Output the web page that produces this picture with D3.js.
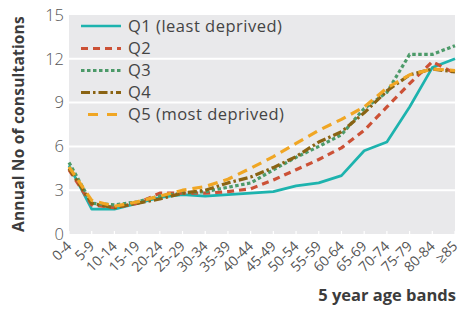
<!DOCTYPE html>
<html>
<head>
<meta charset="utf-8">
<script src="https://cdn.jsdelivr.net/npm/d3@7"></script>
<style>
  html, body { margin: 0; padding: 0; background: #fff; }
  svg { display: block; font-family: "Open Sans", "DejaVu Sans", sans-serif; }
</style>
</head>
<body>
<svg id="chart" width="461" height="311"></svg>
<script>
const categories = ["0-4","5-9","10-14","15-19","20-24","25-29","30-34","35-39","40-44","45-49","50-54","55-59","60-64","65-69","70-74","75-79","80-84","\u226585"];
const q1 = [4.7, 1.7, 1.7, 2.1, 2.5, 2.7, 2.6, 2.7, 2.8, 2.9, 3.3, 3.5, 4.0, 5.7, 6.3, 8.7, 11.4, 12.0];
const q2 = [4.4, 2.0, 1.8, 2.1, 2.8, 2.8, 2.8, 2.9, 3.1, 3.7, 4.4, 5.1, 5.9, 7.1, 8.7, 10.3, 11.8, 11.0];
const q3 = [4.9, 2.1, 2.0, 2.2, 2.6, 2.8, 2.9, 3.2, 3.5, 4.4, 5.25, 6.0, 6.8, 8.6, 9.7, 12.3, 12.3, 12.9];
const q4 = [4.5, 2.1, 1.8, 2.1, 2.4, 2.8, 3.0, 3.5, 3.9, 4.55, 5.3, 6.3, 7.0, 8.3, 9.8, 10.9, 11.3, 11.1];
const q5 = [4.6, 2.3, 1.9, 2.2, 2.6, 3.0, 3.25, 3.75, 4.5, 5.3, 6.2, 7.1, 7.85, 8.7, 10.0, 10.9, 11.3, 11.2];
const seriesNames = ["Q1 (least deprived)", "Q2", "Q3", "Q4", "Q5 (most deprived)"];
const yTicks = [0, 3, 6, 9, 12, 15];
const yTitle = "Annual No of consultations";
const xTitle = "5 year age bands";

const styles = [
  { color: "#1db3ae", dash: null, width: 2.7 },
  { color: "#cc5136", dash: "7,5", width: 3.2 },
  { color: "#4c9a69", dash: "3.5,2.5", width: 3.2 },
  { color: "#8a6313", dash: "9,3,2.5,3", width: 3.2 },
  { color: "#f0a624", dash: "10,6", width: 3.2 }
];
const seriesData = [q1, q2, q3, q4, q5];

const svg = d3.select("#chart");
const mLeft = 69, mRight = 455, mTop = 15, mBottom = 234;

const x = d3.scalePoint().domain(categories).range([mLeft, mRight]);
const y = d3.scaleLinear().domain([0, 15]).range([mBottom, mTop]);

// background
svg.append("rect").attr("x", mLeft).attr("y", mTop)
  .attr("width", mRight - mLeft).attr("height", mBottom - mTop)
  .attr("fill", "#e9e9eb");

// grid
svg.append("g").selectAll("line").data(yTicks.filter(d => d > 0 && d < 15)).join("line")
  .attr("x1", mLeft).attr("x2", mRight)
  .attr("y1", d => y(d)).attr("y2", d => y(d))
  .attr("stroke", "#fff").attr("stroke-width", 2);

// x ticks (white, inside bottom)
svg.append("g").selectAll("line").data(categories).join("line")
  .attr("x1", d => x(d)).attr("x2", d => x(d))
  .attr("y1", mBottom - 3).attr("y2", mBottom)
  .attr("stroke", "#fff").attr("stroke-width", 1.2);

// y axis labels
const yAxis = d3.axisLeft(y).tickValues(yTicks).tickSize(0).tickPadding(6);
const gy = svg.append("g").attr("transform", `translate(${mLeft},0)`).call(yAxis);
gy.select(".domain").remove();
gy.selectAll("text").attr("font-size", 16.5).attr("font-weight", 300).attr("fill", "#555")
  .attr("font-family", "'Open Sans', sans-serif").attr("x", -5);

// x axis labels
const xAxis = d3.axisBottom(x).tickSize(0).tickPadding(0);
const gx = svg.append("g").attr("transform", `translate(0,${mBottom})`).call(xAxis);
gx.select(".domain").remove();
gx.selectAll("text")
  .attr("font-size", 14).attr("fill", "#555")
  .attr("font-family", "'Open Sans', sans-serif")
  .attr("text-anchor", "end")
  .attr("dy", 0).attr("y", 0)
  .attr("transform", "translate(3,13) rotate(-45)");

// lines
const line = d3.line().x((d, i) => x(categories[i])).y(d => y(d));
seriesData.forEach((s, k) => {
  svg.append("path").datum(s)
    .attr("d", line)
    .attr("fill", "none")
    .attr("stroke", styles[k].color)
    .attr("stroke-width", styles[k].width)
    .attr("stroke-dasharray", styles[k].dash)
    .attr("stroke-linejoin", "round");
});

// legend
const legY = [26, 48.5, 70.5, 92.5, 114.5];
seriesNames.forEach((name, k) => {
  const g = svg.append("g");
  g.append("line")
    .attr("x1", k === 4 ? 88 : 81).attr("x2", 121)
    .attr("y1", legY[k]).attr("y2", legY[k])
    .attr("stroke", styles[k].color)
    .attr("stroke-width", styles[k].width)
    .attr("stroke-dasharray", k === 4 ? "10,9" : styles[k].dash);
  g.append("text").attr("x", 128).attr("y", legY[k]).attr("dy", "0.35em")
    .attr("font-size", 16.5).attr("letter-spacing", 0.5).attr("fill", "#444").text(name);
});

// titles
svg.append("text")
  .attr("transform", `translate(24,${(20 + 228) / 2}) rotate(-90)`)
  .attr("text-anchor", "middle")
  .attr("font-size", 15.5).attr("font-weight", "bold").attr("fill", "#3c3c3c")
  .attr("letter-spacing", 0.2)
  .text(yTitle);

svg.append("text")
  .attr("x", 456).attr("y", 301)
  .attr("text-anchor", "end")
  .attr("font-size", 16.5).attr("font-weight", "bold").attr("fill", "#3c3c3c")
  .text(xTitle);
</script>
</body>
</html>
